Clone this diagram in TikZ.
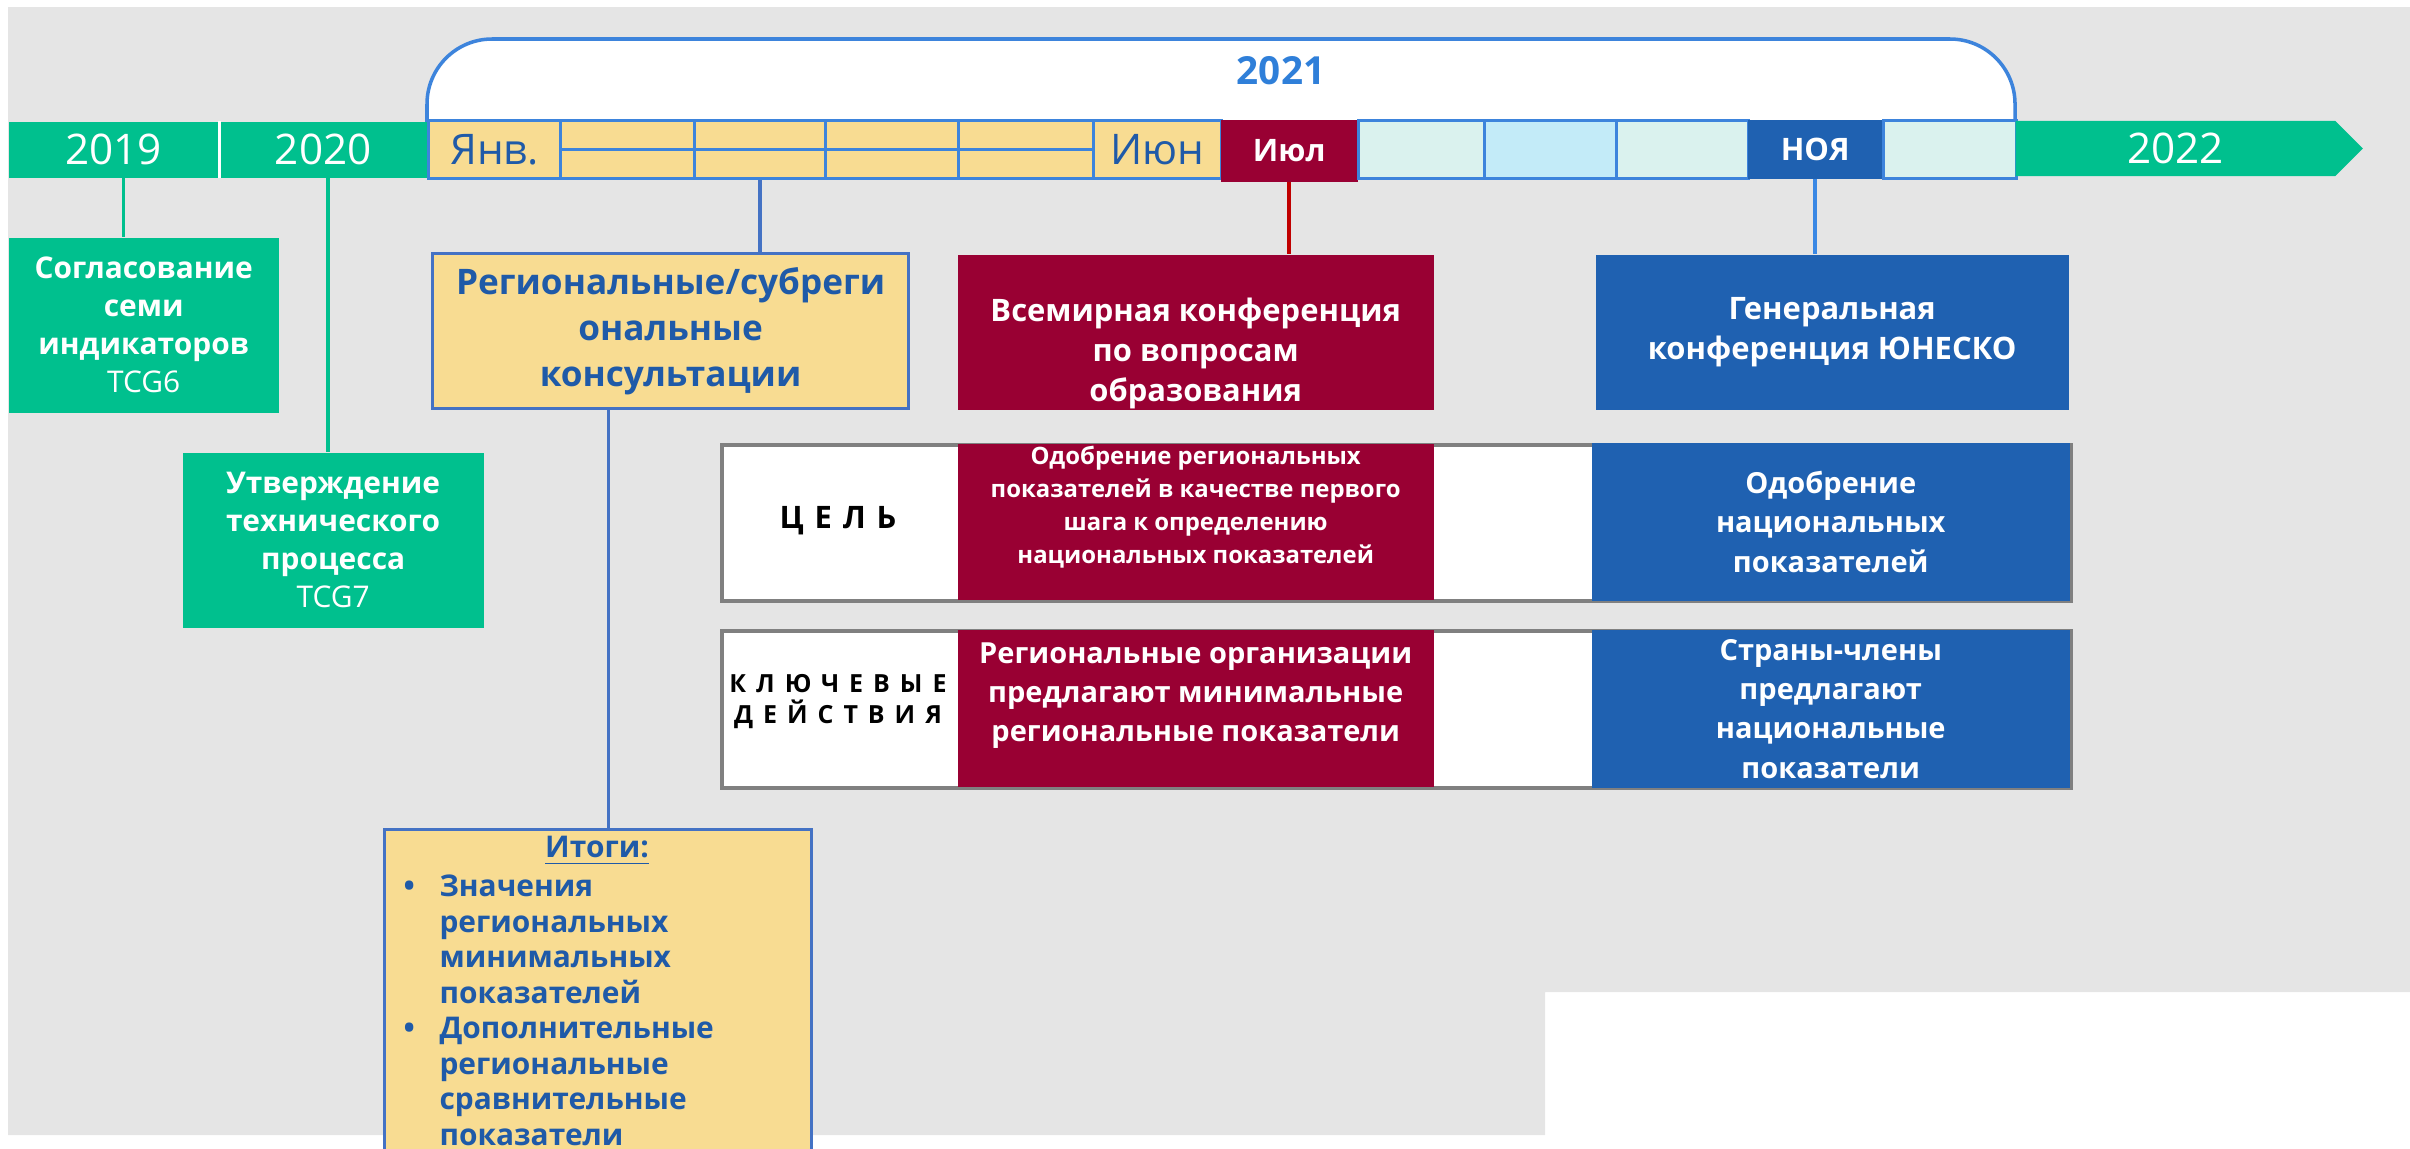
\documentclass[tikz,border=0pt]{standalone}
\usepackage{fontspec}
\setmainfont{Open Sans}
\usetikzlibrary{positioning, shapes.symbols, calc}

\definecolor{bggray}{HTML}{E5E5E5}
\definecolor{tlgreen}{HTML}{00C08E}
\definecolor{wcered}{HTML}{990033}
\definecolor{unblue}{HTML}{1F61B1}
\definecolor{consyellow}{HTML}{F8DC92}
\definecolor{txtblue}{HTML}{1F5AA8}
\definecolor{cellline}{HTML}{3D84DC}
\definecolor{linkblue}{HTML}{4472C4}
\definecolor{novblue}{HTML}{3A88E4}
\definecolor{conred}{HTML}{C00000}
\definecolor{yrblue}{HTML}{2F7FD9}
\definecolor{cellmint}{HTML}{DAF2EE}
\definecolor{cellsky}{HTML}{C3EBF8}
\definecolor{rowgray}{HTML}{808080}

\begin{document}
\begin{tikzpicture}[
    x=0.01cm, y=-0.01cm,
    % Styles
    sz/.style 2 args={minimum width={#1*0.01cm}, minimum height={#2*0.01cm}},
    box/.style={rectangle, inner sep=0pt, anchor=north west, align=center},
    yrseg/.style={box, fill=tlgreen, text=white, font=\fontsize{12}{14}\selectfont},
    month/.style={box, draw=cellline, line width=0.9pt, fill=consyellow, text=txtblue,
        font=\fontsize{12}{14}\selectfont},
    tintcell/.style={box, draw=cellline, line width=0.9pt, fill=#1},
    keymonth/.style={box, fill=#1, text=white, font=\fontsize{8.8}{10}\selectfont\bfseries},
    greenbox/.style={box, fill=tlgreen, text=white, font=\fontsize{8.5}{10.8}\selectfont\bfseries},
    consbox/.style={box, draw=linkblue, line width=0.9pt, fill=consyellow, text=txtblue},
    eventbox/.style={box, fill=#1, text=white, font=\fontsize{8.8}{11.4}\selectfont\bfseries},
    rowbox/.style={box, draw=rowgray, line width=1pt, fill=white},
    cellbox/.style={box, fill=#1, text=white, font=\fontsize{8.25}{11.2}\selectfont\bfseries},
    celltxt/.style={align=center, inner sep=0pt, text=white},
    rowlbl/.style={align=center, inner sep=0pt},
    conn/.style={line width=1pt, draw=#1}
]
    \useasboundingbox (0,0) rectangle (2410,1148);
    \fill[bggray] (8,7) -- (2410,7) -- (2410,992) -- (1545,992) -- (1545,1135) -- (8,1135) -- cycle;

    % 2021 bracket
    \draw[draw=cellline, line width=1pt, fill=white, rounded corners=0.65cm]
        (427,125) |- (2015,39) -- (2015,125);
    \node[font=\fontsize{11}{13}\selectfont\bfseries, text=yrblue] (yr2021) at (1281,71) {2021};

    % Years
    \node[yrseg, sz={210}{56}] (yr2019) at (8,121) {2019};
    \node[yrseg, sz={209}{56}] (yr2020) at (218,121) {2020};
    \draw[white, line width=1pt] (yr2019.north east) -- (yr2019.south east);

    % Months of 2021
    \node[month, sz={132}{58}] (jan) at (427,119) {Янв.};
    \foreach \n/\x/\w in {c2/559/134, c3/693/131, c4/824/133, c5/957/135}
        \node[month, sz={\w}{58}] (\n) at (\x,119) {};
    \draw[cellline, line width=0.9pt] (c2.west) -- (c5.east);
    \node[month, sz={128}{58}] (jun) at (1092,119) {Июн};
    \node[keymonth=wcered, sz={137}{62}] (jul) at (1220,119) {Июл};
    \node[tintcell=cellmint, sz={126}{58}] (aug) at (1357,119) {};
    \node[tintcell=cellsky, sz={132}{58}] (sep) at (1483,119) {};
    \node[tintcell=cellmint, sz={132}{58}] (oct) at (1615,119) {};
    \node[keymonth=unblue, sz={135}{59}] (nov) at (1747,119) {НОЯ};
    \node[tintcell=cellmint, sz={133}{58}] (dec) at (1882,119) {};

    \node[signal, signal to=east, signal pointer angle=90, fill=tlgreen, inner sep=0pt,
        minimum width=3.47cm, minimum height=0.55cm, anchor=west, text=white,
        font=\fontsize{12}{14}\selectfont] (yr2022) at (2015,148.5) {2022};

    % Milestones
    \node[greenbox, sz={270}{175}] (tcg6) at (8,237) {Согласование\\семи\\индикаторов\\{\mdseries TCG6}};
    \node[greenbox, sz={301}{175}] (tcg7) at (182,452) {Утверждение\\технического\\процесса\\{\mdseries TCG7}};
    \node[consbox, sz={476}{155}, font=\fontsize{10}{13.1}\selectfont\bfseries] (consult) at (431,252)
        {Региональные/субреги\\ональные\\консультации};
    \node[eventbox=wcered, sz={476}{155}] (wce) at (957,254) {};
    \node[celltxt, font=\fontsize{8.8}{11.4}\selectfont\bfseries] (wcetxt) at ([yshift=-0.21cm]wce.center)
        {Всемирная конференция\\по вопросам\\образования};
    \node[eventbox=unblue, sz={473}{155}] (unesco) at (1595,254) {Генеральная\\конференция ЮНЕСКО};

    % Goal row
    \node[rowbox, sz={1349}{156}] (goalrow) at (720,443) {};
    \node[rowlbl, font=\fontsize{8.8}{10}\selectfont\bfseries\addfontfeature{LetterSpace=35}] (goallbl) at (838,521) {ЦЕЛЬ};
    \node[cellbox=wcered, sz={476}{156}] (goalreg) at (957,443) {};
    \node[celltxt, font=\fontsize{6.8}{9.4}\selectfont\bfseries] (goalregtxt) at ([yshift=0.145cm]goalreg.center)
        {Одобрение региональных\\показателей в качестве первого\\шага к определению\\национальных показателей};
    \node[cellbox=unblue, sz={478}{158}] (goalnat) at (1591,442) {Одобрение\\национальных\\показателей};

    % Key actions row
    \node[rowbox, sz={1349}{157}] (actrow) at (720,629) {};
    \node[rowlbl, font=\fontsize{7.1}{8.8}\selectfont\bfseries\addfontfeature{LetterSpace=40}] (actlbl) at (838,702)
        {КЛЮЧЕВЫЕ\\ДЕЙСТВИЯ};
    \node[cellbox=wcered, sz={476}{157}] (actreg) at (957,629) {};
    \node[celltxt, font=\fontsize{8.25}{11.1}\selectfont\bfseries] (actregtxt) at ([yshift=0.13cm]actreg.center)
        {Региональные организации\\предлагают минимальные\\региональные показатели};
    \node[cellbox=unblue, sz={478}{158}] (actnat) at (1591,629) {Страны-члены\\предлагают\\национальные\\показатели};

    % Outcomes
    \node[consbox, sz={427}{340}] (itogi) at (383,828) {};
    \node[text=txtblue, font=\fontsize{8.5}{10}\selectfont\bfseries] (itogititle) at (597,851) {\underline{Итоги:}};
    \node[anchor=north west, inner sep=0pt, text=txtblue, font=\fontsize{8.5}{10.1}\selectfont\bfseries] (itogilist) at (403,871)
        {\begin{tabular}{@{}l@{\hspace{7pt}}l@{}}
            \textbullet & Значения\\ & региональных\\ & минимальных\\ & показателей\\
            \textbullet & Дополнительные\\ & региональные\\ & сравнительные\\ & показатели
        \end{tabular}};

    % Connectors
    \draw[conn=tlgreen] ([xshift=0.1cm]yr2019.south) -- ([xshift=0.1cm]yr2019.south |- tcg6.north);
    \draw[conn=tlgreen] ([xshift=0.05cm]yr2020.south) -- ([xshift=0.05cm]yr2020.south |- tcg7.north);
    \draw[conn=linkblue] (c3.south) -- (c3.south |- consult.north);
    \draw[conn=linkblue] ([xshift=0.105cm]itogi.north |- consult.south) -- ([xshift=0.105cm]itogi.north);
    \draw[conn=conred] (jul.south) -- (jul.south |- wce.north);
    \draw[conn=novblue] (nov.south) -- (nov.south |- unesco.north);
\end{tikzpicture}
\end{document}
